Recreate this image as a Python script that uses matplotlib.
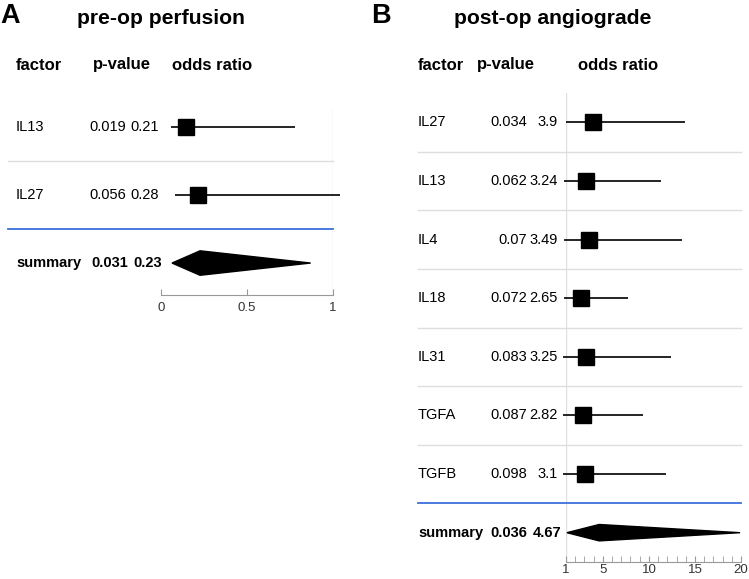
import matplotlib
matplotlib.use("Agg")
import matplotlib.pyplot as plt
from matplotlib import transforms
from matplotlib.patches import Polygon

plt.rcParams['font.family'] = ['Liberation Sans', 'DejaVu Sans']

W, H = 749, 579

# panel A: pre-op perfusion
a_factors = ["IL13", "IL27"]
a_pvals = ["0.019", "0.056"]
a_or_text = ["0.21", "0.28"]
a_est = [0.145, 0.215]
a_lo = [0.058, 0.08]
a_hi = [0.78, 1.04]
a_sum = ("0.031", "0.23")
a_sum_ci = (0.064, 0.227, 0.87)
a_ticks = [0, 0.5, 1]
a_ticklabels = ["0", "0.5", "1"]

# panel B: post-op angiograde
b_factors = ["IL27", "IL13", "IL4", "IL18", "IL31", "TGFA", "TGFB"]
b_pvals = ["0.034", "0.062", "0.07", "0.072", "0.083", "0.087", "0.098"]
b_or_text = ["3.9", "3.24", "3.49", "2.65", "3.25", "2.82", "3.1"]
b_est = [3.9, 3.2, 3.45, 2.6, 3.2, 2.8, 3.1]
b_lo = [1.0, 0.8, 0.8, 0.8, 0.7, 0.7, 0.7]
b_hi = [13.9, 11.3, 13.6, 7.7, 12.4, 9.4, 11.9]
b_sum = ("0.036", "4.67")
b_sum_ci = (1.1, 4.6, 19.9)
b_ticks = [1, 5, 10, 15, 20]
b_ticklabels = ["1", "5", "10", "15", "20"]

fig = plt.figure(figsize=(W / 100, H / 100), dpi=100)


def px_axes(x0, y0, x1, y1):
    return fig.add_axes([x0 / W, 1 - y1 / H, (x1 - x0) / W, (y1 - y0) / H])


def fx(x):
    return x / W


def fy(y):
    return 1 - y / H


def forest(ax, factors, pvals, ortext, est, lo, hi, summ, summ_ci, xlim, ylim,
           ticks, ticklabels, minor, cols, sep_x0, diamond_h, p_align, pad):
    n = len(factors)
    ax.set_xlim(*xlim)
    ax.set_ylim(*ylim)
    for s in ["top", "left", "right"]:
        ax.spines[s].set_visible(False)
    ax.spines["bottom"].set_color("#999999")
    ax.set_yticks([])
    ax.set_xticks(ticks)
    ax.set_xticklabels(ticklabels)
    if minor is not None:
        ax.set_xticks(minor, minor=True)
    ax.tick_params(axis="x", which="both", direction="in", length=4,
                   color="#999999", labelsize=9.5, labelcolor="#333333", pad=pad)
    ax.patch.set_alpha(0)
    ax.axvline(1, color="#e0e0e0", lw=1, zorder=0)

    tr = transforms.blended_transform_factory(fig.transFigure, ax.transData)
    rows = list(range(1, n + 1))
    for i, r in enumerate(rows):
        ax.plot([lo[i], hi[i]], [r, r], color="black", lw=1.2, clip_on=False,
                solid_capstyle="butt")
        ax.plot(est[i], r, marker="s", ms=12.2, color="black", clip_on=False)
        ax.text(fx(cols["factor"]), r, factors[i], transform=tr, va="center",
                ha="left", fontsize=10.5)
        ax.text(fx(cols["p"]), r, pvals[i], transform=tr, va="center",
                ha=p_align, fontsize=10.5)
        ax.text(fx(cols["or"]), r, ortext[i], transform=tr, va="center",
                ha=p_align, fontsize=10.5)
    for r in rows[:-1]:
        ax.plot([fx(sep_x0), ax.get_position().x1], [r + 0.5, r + 0.5],
                transform=tr, color="#dddddd", lw=1, clip_on=False)
    rs = n + 1
    ax.plot([fx(sep_x0), ax.get_position().x1], [rs - 0.5, rs - 0.5],
            transform=tr, color="#3a6fdc", lw=1.3, clip_on=False)
    l, c, h = summ_ci
    ax.add_patch(Polygon([(l, rs), (c, rs - diamond_h), (h, rs),
                          (c, rs + diamond_h)], closed=True, color="black",
                         clip_on=False))
    ax.text(fx(cols["factor"]), rs, "summary", transform=tr, va="center",
            ha="left", fontsize=10.5, fontweight="bold")
    ax.text(fx(cols["sp"]), rs, summ[0], transform=tr, va="center",
            ha=p_align, fontsize=10.5, fontweight="bold")
    ax.text(fx(cols["sor"]), rs, summ[1], transform=tr, va="center",
            ha=p_align, fontsize=10.5, fontweight="bold")


axA = px_axes(161, 108, 333, 295)
forest(axA, a_factors, a_pvals, a_or_text, a_est, a_lo, a_hi, a_sum, a_sum_ci,
       (0, 1), (3.47, 0.72), a_ticks, a_ticklabels, None,
       {"factor": 16, "p": 89, "or": 130, "sp": 91, "sor": 133}, 8, 0.18,
       "left", 5)

axB = px_axes(566, 93, 741, 562)
forest(axB, b_factors, b_pvals, b_or_text, b_est, b_lo, b_hi, b_sum, b_sum_ci,
       (1, 20), (8.5, 0.5), b_ticks, b_ticklabels, list(range(1, 21)),
       {"factor": 418, "p": 527, "or": 558, "sp": 527, "sor": 561}, 418, 0.14,
       "right", 1.5)

# headers
for x, t in [(16, "factor"), (93, "p-value"), (172, "odds ratio"),
             (418, "factor"), (477, "p-value"), (578, "odds ratio")]:
    fig.text(fx(x), fy(65), t, ha="left", va="center", fontsize=12,
             fontweight="bold")

# titles
fig.text(fx(0), fy(16), "A", ha="left", va="center", fontsize=19.5,
         fontweight="bold")
fig.text(fx(77), fy(18), "pre-op perfusion", ha="left", va="center",
         fontsize=15.2, fontweight="bold")
fig.text(fx(371), fy(16), "B", ha="left", va="center", fontsize=19.5,
         fontweight="bold")
fig.text(fx(454), fy(18), "post-op angiograde", ha="left", va="center",
         fontsize=15.2, fontweight="bold")

fig.savefig("out.png", dpi=100)
